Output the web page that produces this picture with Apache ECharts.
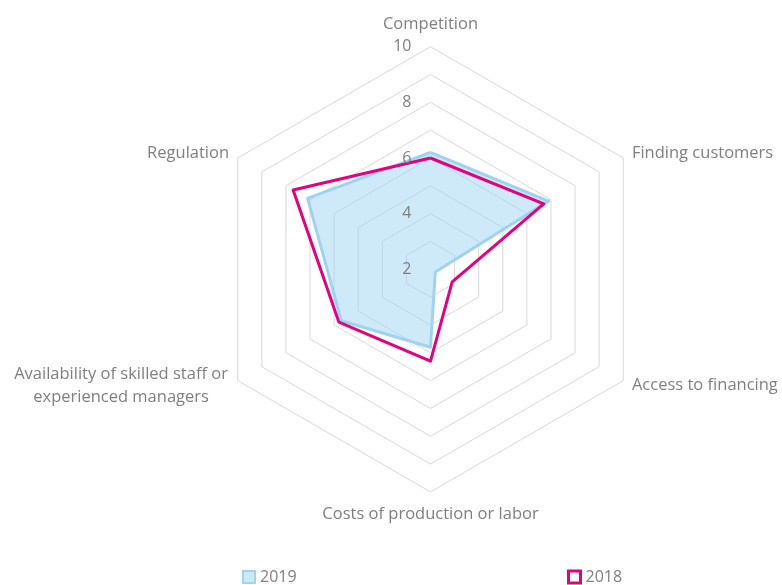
<!DOCTYPE html>
<html>
<head>
<meta charset="utf-8">
<script src="https://cdn.jsdelivr.net/npm/echarts@6/dist/echarts.min.js"></script>
<style>
html,body{margin:0;padding:0;background:#fff;}
#chart{width:782px;height:585px;}
</style>
</head>
<body>
<div id="chart"></div>
<script>
// Categories in clockwise order starting from the top
const categories = [
  'Competition',
  'Finding customers',
  'Access to financing',
  'Costs of production or labor',
  'Availability of skilled staff or\nexperienced managers',
  'Regulation'
];
const values2019 = [6.2, 6.9, 2.2, 4.8, 5.7, 7.1];
const values2018 = [6.0, 6.7, 2.9, 5.3, 5.8, 7.7];
const tickLabels = ['2', '4', '6', '8', '10'];
const axisMin = 2;
const axisMax = 10;
const seriesNames = ['2019', '2018'];

// ECharts radar places indicators counter-clockwise; reorder to draw clockwise
const order = [0, 5, 4, 3, 2, 1];
const reorder = arr => order.map(i => arr[i]);

const FONT = 'Open Sans';
const GRAY = '#7f7f7f';
const BLUE = '#9dd4f0';
const MAGENTA = '#e5007d';

const indicators = reorder(categories).map((name, k) => ({
  name: name, min: axisMin, max: axisMax,
  axisLabel: { show: k === 0 }
}));

const chart = echarts.init(document.getElementById('chart'), null, { renderer: 'canvas' });
const radarBase = {
  center: [430.5, 269.3],
  radius: 222.6,
  startAngle: 90,
  splitNumber: 8,
  shape: 'polygon'
};
chart.setOption({
  animation: false,
  backgroundColor: '#ffffff',
  textStyle: { fontFamily: FONT },
  radar: [
    Object.assign({}, radarBase, {
      z: 1,
      indicator: reorder(categories).map(name => ({ name: name, min: axisMin, max: axisMax })),
      nameGap: 10,
      axisName: {
        color: GRAY, fontSize: 16.5, fontFamily: FONT,
        formatter: function (name) {
          if (name === 'Competition') return '{t|' + name + '}';
          if (name === 'Costs of production or labor') return '{b|' + name + '}';
          if (name.indexOf('\n') >= 0) return name.split('\n').map(s => '{c|' + s + '}').join('\n');
          return name;
        },
        rich: {
          t: { padding: [0, 0, 4, 0], fontSize: 16.5, color: GRAY, fontFamily: FONT },
          b: { padding: [4, 0, 0, 0], fontSize: 16.5, color: GRAY, fontFamily: FONT },
          c: { width: 216, align: 'center', lineHeight: 23, fontSize: 16.5, color: GRAY, fontFamily: FONT }
        }
      },
      axisLine: { show: false },
      axisTick: { show: false },
      axisLabel: { show: false },
      splitLine: { show: true, lineStyle: { color: '#d9d9d9', width: 1 } },
      splitArea: { show: false }
    }),
    Object.assign({}, radarBase, {
      z: 10,
      indicator: indicators,
      axisName: { show: false },
      axisLine: { show: false },
      axisTick: { show: false },
      splitLine: { show: false },
      splitArea: { show: false },
      axisLabel: {
        show: false, color: GRAY, fontSize: 16, fontFamily: FONT, margin: 19,
        formatter: function (v) { return tickLabels.indexOf(String(v)) >= 0 ? String(v) : ''; }
      }
    })
  ],
  legend: [
    {
      left: 242, top: 569, padding: 0, itemWidth: 12, itemHeight: 12,
      selectedMode: false,
      textStyle: { color: GRAY, fontSize: 16, fontFamily: FONT },
      data: [{ name: seriesNames[0], icon: 'rect', itemStyle: { color: '#cde8f5', borderColor: BLUE, borderWidth: 2 } }]
    },
    {
      left: 567, top: 569, padding: 0, itemWidth: 12, itemHeight: 12,
      selectedMode: false,
      textStyle: { color: GRAY, fontSize: 16, fontFamily: FONT },
      data: [{ name: seriesNames[1], icon: 'rect', itemStyle: { color: '#ffffff', borderColor: MAGENTA, borderWidth: 3 } }]
    }
  ],
  series: [
    {
      type: 'radar', radarIndex: 0, name: seriesNames[0], z: 2,
      symbol: 'none',
      data: [{ name: seriesNames[0], value: reorder(values2019) }],
      lineStyle: { color: BLUE, width: 3 },
      itemStyle: { color: BLUE },
      areaStyle: { color: BLUE, opacity: 0.5 }
    },
    {
      type: 'radar', radarIndex: 0, name: seriesNames[1], z: 3,
      symbol: 'none',
      data: [{ name: seriesNames[1], value: reorder(values2018) }],
      lineStyle: { color: MAGENTA, width: 3 },
      itemStyle: { color: MAGENTA }
    }
  ]
});
</script>
</body>
</html>
